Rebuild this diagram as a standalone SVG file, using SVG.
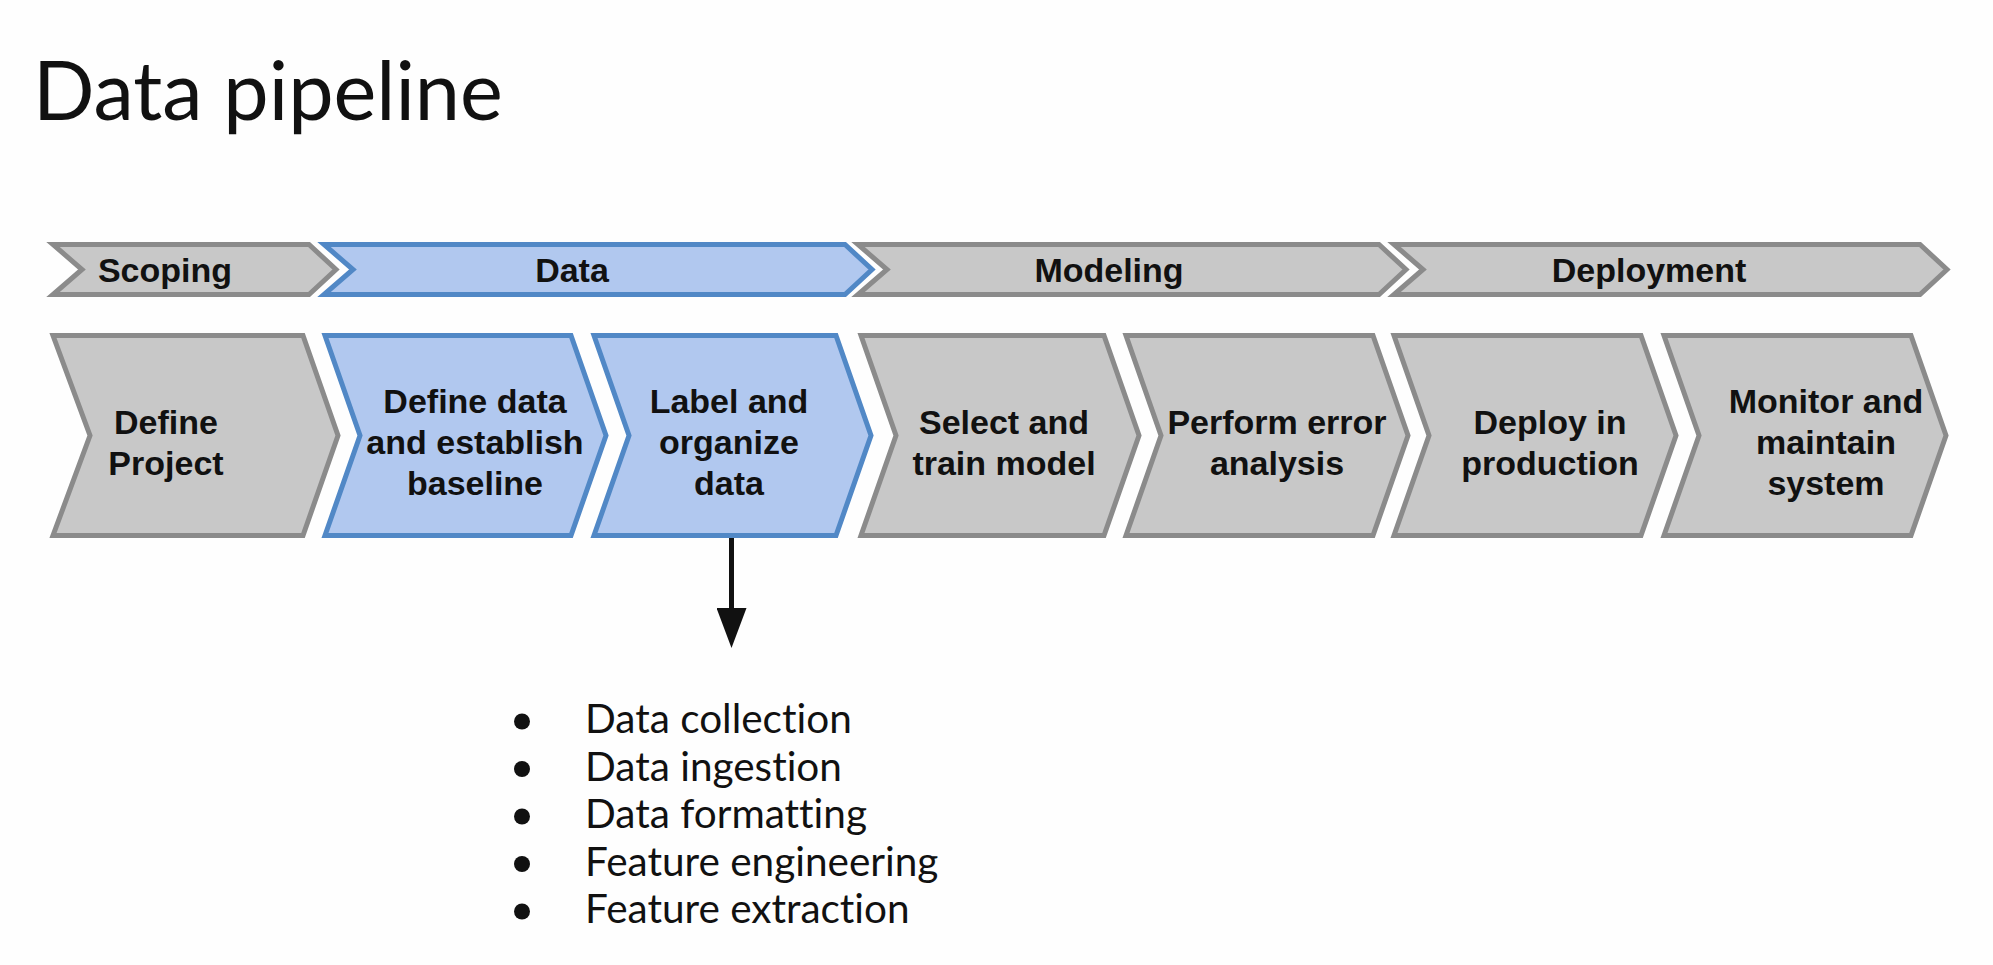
<svg xmlns="http://www.w3.org/2000/svg" width="1993" height="965" viewBox="0 0 1993 965">
<defs>
<style>
.bg{fill:#fefefe}
.g{fill:#c8c8c8;stroke:#8b8b8b;stroke-width:5;stroke-linejoin:miter}
.b{fill:#b1c8ef;stroke:#5188c6;stroke-width:5;stroke-linejoin:miter}
.lbl{font-family:"Liberation Sans",Arial,sans-serif;font-weight:bold;font-size:34px;fill:#111;text-anchor:middle}
.title{font-family:Lato,"Open Sans",sans-serif;font-size:81px;fill:#111}
.item{font-family:Lato,"Open Sans",sans-serif;font-size:40.5px;fill:#111;font-variant-ligatures:none}
.dot{fill:#111}
</style>
<marker id="ah" markerUnits="userSpaceOnUse" markerWidth="40" markerHeight="30" viewBox="0 0 40 30" refX="0" refY="15" orient="auto">
<path d="M0,0 L40,15 L0,30 Z" fill="#111"/>
</marker>
</defs>
<rect class="bg" x="0" y="0" width="1993" height="965"/>
<text class="title" x="33" y="120">Data pipeline</text>

<g id="phase-scoping">
<path class="g" d="M53,244.5 H309 L336,269.5 L309,294.5 H53 L82,269.5 Z"/>
<text class="lbl" x="165" y="282">Scoping</text>
</g>
<g id="phase-data">
<path class="b" d="M324,244.5 H845 L872,269.5 L845,294.5 H324 L353,269.5 Z"/>
<text class="lbl" x="572" y="282">Data</text>
</g>
<g id="phase-modeling">
<path class="g" d="M858,244.5 H1379 L1406,269.5 L1379,294.5 H858 L887,269.5 Z"/>
<text class="lbl" x="1109" y="282">Modeling</text>
</g>
<g id="phase-deployment">
<path class="g" d="M1394,244.5 H1920 L1947,269.5 L1920,294.5 H1394 L1423,269.5 Z"/>
<text class="lbl" x="1649" y="282">Deployment</text>
</g>

<g id="step-define-project">
<path class="g" d="M53,335.5 H303 L338,435.5 L303,535.5 H53 L90,435.5 Z"/>
<text class="lbl"><tspan x="166" y="434">Define</tspan><tspan x="166" y="475">Project</tspan></text>
</g>
<g id="step-define-data">
<path class="b" d="M325,335.5 H571 L606,435.5 L571,535.5 H325 L360,435.5 Z"/>
<text class="lbl"><tspan x="475" y="413">Define data</tspan><tspan x="475" y="454">and establish</tspan><tspan x="475" y="495">baseline</tspan></text>
</g>
<g id="step-label-data">
<path class="b" d="M594,335.5 H836 L871,435.5 L836,535.5 H594 L629,435.5 Z"/>
<text class="lbl"><tspan x="729" y="413">Label and</tspan><tspan x="729" y="454">organize</tspan><tspan x="729" y="495">data</tspan></text>
</g>
<g id="step-select-train">
<path class="g" d="M861,335.5 H1104 L1139,435.5 L1104,535.5 H861 L896,435.5 Z"/>
<text class="lbl"><tspan x="1004" y="434">Select and</tspan><tspan x="1004" y="475">train model</tspan></text>
</g>
<g id="step-error-analysis">
<path class="g" d="M1126,335.5 H1373 L1408,435.5 L1373,535.5 H1126 L1161,435.5 Z"/>
<text class="lbl"><tspan x="1277" y="434">Perform error</tspan><tspan x="1277" y="475">analysis</tspan></text>
</g>
<g id="step-deploy">
<path class="g" d="M1394,335.5 H1641 L1676,435.5 L1641,535.5 H1394 L1429,435.5 Z"/>
<text class="lbl"><tspan x="1550" y="434">Deploy in</tspan><tspan x="1550" y="475">production</tspan></text>
</g>
<g id="step-monitor">
<path class="g" d="M1664,335.5 H1911 L1946,435.5 L1911,535.5 H1664 L1699,435.5 Z"/>
<text class="lbl"><tspan x="1826" y="413">Monitor and</tspan><tspan x="1826" y="454">maintain</tspan><tspan x="1826" y="495">system</tspan></text>
</g>

<g id="connectors">
<line x1="731.5" y1="538" x2="731.5" y2="608" stroke="#111" stroke-width="5" marker-end="url(#ah)"/>
</g>

<g id="data-tasks">
<circle class="dot" cx="522" cy="721.5" r="8"/>
<circle class="dot" cx="522" cy="769" r="8"/>
<circle class="dot" cx="522" cy="816.5" r="8"/>
<circle class="dot" cx="522" cy="864" r="8"/>
<circle class="dot" cx="522" cy="911.5" r="8"/>
<text class="item" x="585" y="733">Data collection</text>
<text class="item" x="585" y="780.5">Data ingestion</text>
<text class="item" x="585" y="828">Data formatting</text>
<text class="item" x="585" y="875.5">Feature engineering</text>
<text class="item" x="585" y="923">Feature extraction</text>
</g>
</svg>
